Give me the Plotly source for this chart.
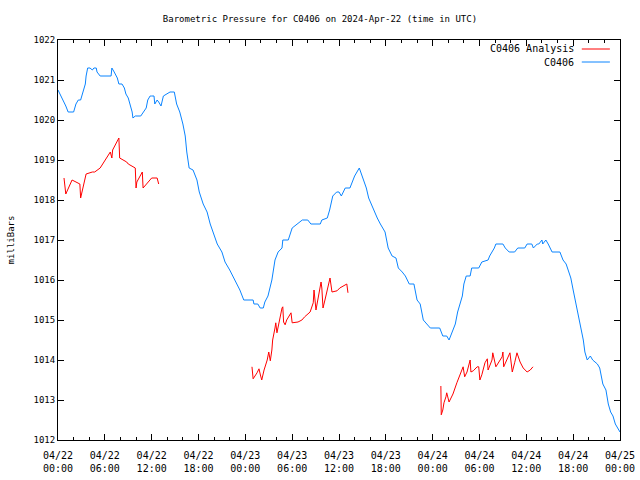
import pandas as pd
import plotly.graph_objects as go

# ---- data (hours since 2024-04-22 00:00 UTC, pressure in mb) ----
blue_hours = [0, 0.4, 0.64, 1.0, 1.3, 2.0, 2.3, 2.6, 2.9, 3.2, 3.5, 3.6, 3.8, 4.1, 4.4, 4.6, 4.9, 5.0, 5.4, 6.8,
              6.9, 7.2, 7.6, 7.8, 8.2, 8.5, 8.7, 9.0, 9.2, 9.5, 9.6, 9.9, 10.6, 10.9, 11.3, 11.5, 11.8, 12.0, 12.3, 12.4,
              12.7, 12.9, 13.2, 13.5, 14.0, 14.35, 14.9, 15.2, 15.6, 16.0, 16.3, 16.5, 16.8, 17.3, 17.8, 18.1, 18.6, 19.1, 19.5, 19.9,
              20.4, 21.0, 21.4, 22.0, 22.7, 23.3, 23.8, 25.0, 25.1, 25.6, 25.9, 26.3, 26.5, 26.9, 27.4, 27.8, 28.2, 28.7, 28.8, 29.5,
              30.0, 30.6, 31.3, 32.0, 32.4, 33.6, 33.8, 34.5, 34.8, 35.2, 35.7, 36.0, 36.3, 36.8, 37.4, 37.7, 38.0, 38.6, 39.1, 39.5,
              39.8, 40.4, 40.9, 41.3, 41.9, 42.3, 42.8, 43.3, 43.6, 44.1, 44.5, 45.0, 45.6, 46.0, 46.4, 46.8, 47.3, 47.7, 48.9, 49.3,
              49.8, 50.1, 50.5, 50.9, 51.2, 51.8, 52.0, 52.3, 52.8, 53.0, 53.9, 54.3, 55.1, 55.3, 55.9, 56.1, 57.0, 57.3, 57.8, 58.5,
              58.9, 59.8, 60.1, 60.7, 60.9, 61.4, 61.6, 62.0, 62.1, 62.5, 62.8, 63.3, 64.3, 64.7, 65.1, 65.3, 65.7, 66.0, 66.5, 66.9,
              67.3, 67.5, 67.8, 68.2, 68.5, 69.1, 69.4, 69.8, 70.2, 70.5, 70.8, 71.1, 71.4, 71.7, 72.0]
blue_mb = [1020.75, 1020.6, 1020.5, 1020.35, 1020.2, 1020.2, 1020.4, 1020.5, 1020.5, 1020.7, 1020.9, 1021.1, 1021.3, 1021.3, 1021.25, 1021.3, 1021.3, 1021.2, 1021.1, 1021.1,
           1021.3, 1021.2, 1021.05, 1020.9, 1020.9, 1020.8, 1020.65, 1020.55, 1020.4, 1020.2, 1020.05, 1020.1, 1020.1, 1020.2, 1020.3, 1020.5, 1020.6, 1020.6, 1020.6, 1020.4,
           1020.5, 1020.45, 1020.35, 1020.6, 1020.65, 1020.7, 1020.7, 1020.4, 1020.2, 1019.9, 1019.6, 1019.2, 1018.8, 1018.75, 1018.5, 1018.2, 1017.9, 1017.7, 1017.4, 1017.2,
           1016.9, 1016.7, 1016.45, 1016.25, 1016.0, 1015.75, 1015.5, 1015.5, 1015.4, 1015.4, 1015.3, 1015.3, 1015.45, 1015.6, 1016.0, 1016.5, 1016.7, 1016.8, 1017.0, 1017.0,
           1017.3, 1017.4, 1017.5, 1017.5, 1017.4, 1017.4, 1017.5, 1017.55, 1017.75, 1018.1, 1018.2, 1018.2, 1018.1, 1018.3, 1018.3, 1018.45, 1018.6, 1018.8, 1018.55, 1018.3,
           1018.05, 1017.75, 1017.55, 1017.4, 1017.2, 1016.8, 1016.6, 1016.55, 1016.3, 1016.2, 1016.1, 1015.9, 1015.9, 1015.5, 1015.4, 1015.0, 1014.9, 1014.8, 1014.8, 1014.6,
           1014.6, 1014.5, 1014.7, 1014.9, 1015.2, 1015.6, 1015.9, 1016.1, 1016.1, 1016.3, 1016.3, 1016.45, 1016.5, 1016.6, 1016.8, 1016.9, 1016.9, 1016.8, 1016.7, 1016.7,
           1016.8, 1016.8, 1016.9, 1016.9, 1016.8, 1016.9, 1016.9, 1017.0, 1016.9, 1017.0, 1016.9, 1016.7, 1016.7, 1016.5, 1016.4, 1016.3, 1016.05, 1015.75, 1015.3, 1014.9,
           1014.5, 1014.2, 1014.0, 1014.1, 1014.0, 1013.9, 1013.8, 1013.4, 1013.25, 1012.9, 1012.7, 1012.6, 1012.4, 1012.3, 1012.2]

red_hours = [0.77, 1.0, 1.8, 2.8, 2.9, 3.6, 4.4, 4.7, 5.4, 6.0, 6.7, 6.9, 7.0, 7.8, 7.9, 8.8, 9.0, 9.9, 10.0, 10.1,
             10.8, 10.9, 12.0, 12.7, 12.9, None,
             24.85, 25.0, 25.5, 25.75, 25.9, 26.1, 26.4, 26.8, 27.0, 27.2, 27.4, 27.5, 27.8, 27.9, 28.05, 28.3, 28.7, 28.8, 28.9, 29.1,
             29.3, 29.85, 30.0, 30.75, 31.25, 31.6, 32.3, 32.7, 32.8, 33.05, 33.3, 33.7, 33.8, 33.95, 34.2, 34.6, 34.85, 35.1, 35.75, 36.1,
             36.8, 37.0, 37.15, None,
             49.05, 49.1, 49.3, 49.45, 49.7, 49.8, 50.1, 50.35, 50.6, 51.1, 51.5, 51.75, 51.9, 52.1, 52.4, 52.8, 52.9, 53.2, 53.7, 53.9,
             54.05, 54.3, 54.7, 55.0, 55.1, 55.6, 55.7, 56.1, 56.9, 57.0, 57.1, 57.9, 58.2, 58.5, 58.8, 59.2, 59.6, 60.1, 60.5, 60.85]
red_mb = [1018.55, 1018.15, 1018.5, 1018.4, 1018.05, 1018.65, 1018.7, 1018.7, 1018.8, 1019.0, 1019.2, 1019.05, 1019.25, 1019.55, 1019.05, 1018.95, 1018.9, 1018.8, 1018.3, 1018.45,
          1018.7, 1018.3, 1018.55, 1018.55, 1018.4, None,
          1013.83, 1013.53, 1013.68, 1013.78, 1013.65, 1013.5, 1013.75, 1014.0, 1014.2, 1013.98, 1014.25, 1014.5, 1014.8, 1014.93, 1014.68, 1014.93, 1015.3, 1015.33, 1014.95, 1014.88,
          1015.0, 1015.18, 1014.93, 1014.95, 1015.0, 1015.08, 1015.2, 1015.43, 1015.75, 1015.25, 1015.55, 1015.95, 1015.8, 1015.3, 1015.5, 1015.83, 1016.05, 1015.7, 1015.73, 1015.8,
          1015.88, 1015.9, 1015.68, None,
          1013.35, 1012.63, 1012.75, 1012.93, 1013.08, 1013.18, 1012.95, 1013.05, 1013.15, 1013.43, 1013.63, 1013.8, 1013.83, 1013.58, 1013.7, 1014.0, 1013.7, 1013.73, 1013.83, 1013.83,
          1013.5, 1013.63, 1013.93, 1014.03, 1013.75, 1014.0, 1014.18, 1013.83, 1014.08, 1014.2, 1013.83, 1014.18, 1013.7, 1013.93, 1014.18, 1013.95, 1013.8, 1013.7, 1013.75, 1013.83]

y_ticks = [1012, 1013, 1014, 1015, 1016, 1017, 1018, 1019, 1020, 1021, 1022]
start = pd.Timestamp("2024-04-22 00:00")
end = pd.Timestamp("2024-04-25 00:00")

def to_time(hours):
    return [None if h is None else start + pd.Timedelta(hours=h) for h in hours]

BLUE = "#0a84ff"
RED = "#ff0000"
FONT = "DejaVu Sans Mono"

fig = go.Figure()
fig.add_trace(go.Scatter(x=to_time(red_hours), y=red_mb, mode="lines", name="C0406 Analysis",
                         line=dict(color=RED, width=1), connectgaps=False, showlegend=False))
fig.add_trace(go.Scatter(x=to_time(blue_hours), y=blue_mb, mode="lines", name="C0406",
                         line=dict(color=BLUE, width=1), showlegend=False))

# gnuplot-style legend (text right-aligned, line sample to the right)
legend_rows = [("C0406 Analysis", RED, 0.9775), ("C0406", BLUE, 0.945)]
for label, col, yy in legend_rows:
    fig.add_annotation(xref="paper", yref="paper", x=0.922, y=yy, text=label, showarrow=False,
                       xanchor="right", yanchor="middle", font=dict(family=FONT, size=10, color="black"))
    fig.add_shape(type="line", xref="paper", yref="paper", x0=0.932, x1=0.982, y0=yy, y1=yy,
                  line=dict(color=col, width=1))

fig.update_layout(
    width=640, height=480,
    margin=dict(l=58, r=20, t=40, b=40, autoexpand=False),
    paper_bgcolor="white", plot_bgcolor="white",
    font=dict(family=FONT, size=10, color="black"),
    hovermode=False,
    title=dict(text="Barometric Pressure for C0406 on 2024-Apr-22 (time in UTC)",
               x=0.5, xanchor="center", y=1 - 19 / 480, yanchor="middle",
               font=dict(family=FONT, size=9, color="black")),
)
fig.update_xaxes(
    type="date", range=[start, end], tick0=start, dtick=6 * 3600 * 1000,
    tickformat="%m/%d<br>%H:%M", showgrid=False, zeroline=False, automargin=False,
    showline=True, linecolor="black", linewidth=1, mirror="ticks",
    ticks="inside", ticklen=6, tickcolor="black", ticklabelstandoff=6,
    minor=dict(dtick=2 * 3600 * 1000, ticks="inside", ticklen=3, tickcolor="black", showgrid=False),
    tickfont=dict(family=FONT, size=10),
)
fig.update_yaxes(
    range=[1012, 1022], tickvals=y_ticks, ticktext=[str(v) for v in y_ticks],
    showgrid=False, zeroline=False, automargin=False,
    showline=True, linecolor="black", linewidth=1, mirror="ticks",
    ticks="inside", ticklen=6, tickcolor="black",
    tickfont=dict(family=FONT, size=9),
    title=dict(text="milliBars", font=dict(family=FONT, size=9), standoff=17),
)

fig.write_html("out.html", config={"displayModeBar": False},
               post_script="document.body.style.margin='0px';")
